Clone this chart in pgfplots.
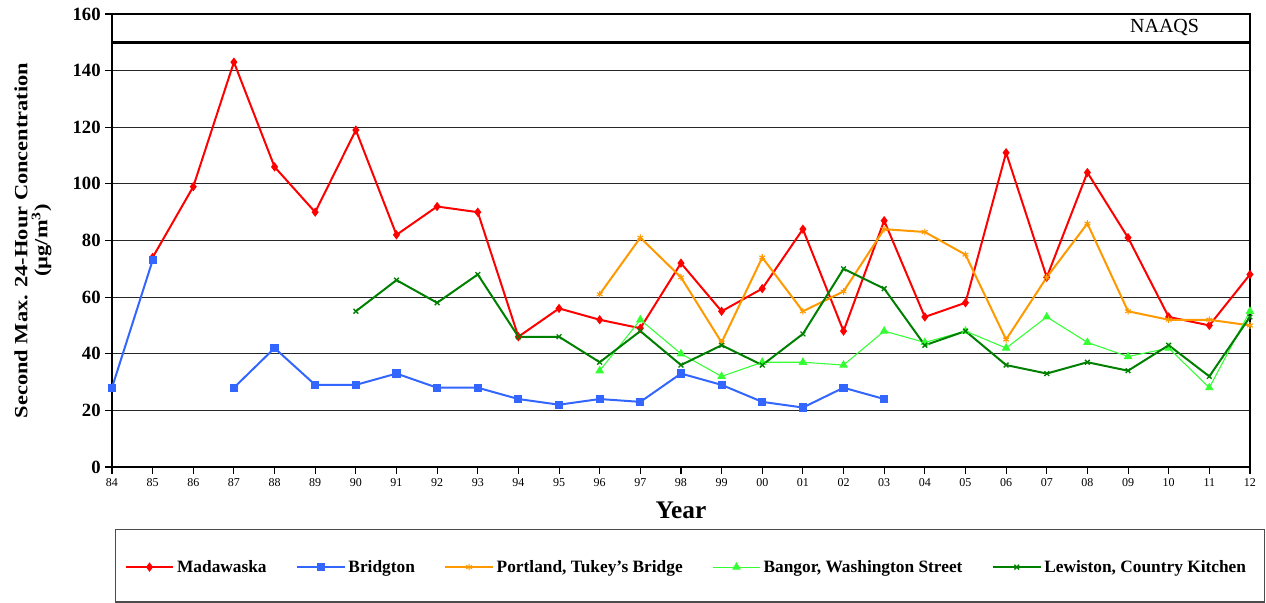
\documentclass[border=0pt]{standalone}
\usepackage{pgfplots}
\pgfplotsset{compat=1.18}
\usepackage{fontspec}
\setmainfont{Liberation Serif}
\definecolor{cMad}{HTML}{FF0000}
\definecolor{cBri}{HTML}{3366FF}
\definecolor{cPor}{HTML}{FF9900}
\definecolor{cBan}{HTML}{33FF33}
\definecolor{cLew}{HTML}{008000}
\begin{document}
\begin{tikzpicture}
\begin{axis}[
  scale only axis,
  width=853.5pt, height=339.75pt,
  xmin=0, xmax=28, ymin=0, ymax=160,
  xtick={0,...,28},
  xticklabels={84,85,86,87,88,89,90,91,92,93,94,95,96,97,98,99,00,01,02,03,04,05,06,07,08,09,10,11,12},
  ytick={0,20,...,160},
  ymajorgrids, grid style={black!85, line width=0.9pt},
  axis line style={black, line width=0.9pt},
  tick align=outside, xtick pos=bottom, ytick pos=left,
  major tick length=5pt,
  tick style={black, line width=0.8pt},
  x tick label style={font=\fontsize{9}{10}\selectfont, yshift=0pt},
  y tick label style={font=\fontsize{14}{16}\selectfont\bfseries},
  /pgf/number format/assume math mode=true,
  xlabel={\bfseries Year}, xlabel style={font=\fontsize{19}{21}\selectfont, yshift=-5pt},
  ylabel={\scalebox{1.2}[1]{\bfseries Second Max. 24-Hour Concentration}\\ \scalebox{1.2}[1]{\bfseries (µg/m\textsuperscript{3})}},
  ylabel style={font=\fontsize{14}{15}\selectfont, align=center, yshift=9pt},
  unbounded coords=jump,
  clip=false,
  legend columns=5,
  legend style={draw=none, fill=none, font=\fontsize{13}{15}\selectfont\bfseries,
    at={(rel axis cs:0.505,-0.221)}, anchor=center,
    /tikz/every even column/.append style={column sep=20pt}},
  legend image code/.code={\draw[mark repeat=2,mark phase=2] plot coordinates {(0cm,0cm) (0.63cm,0cm) (1.26cm,0cm)};},
]
\addplot[cMad, line width=1.5pt, mark=diamond*, mark size=2.3pt] coordinates {
(1,74)(2,99)(3,143)(4,106)(5,90)(6,119)(7,82)(8,92)(9,90)(10,46)(11,56)(12,52)(13,49)(14,72)(15,55)(16,63)(17,84)(18,48)(19,87)(20,53)(21,58)(22,111)(23,67)(24,104)(25,81)(26,53)(27,50)(28,68)};
\addlegendentry{Madawaska}
\addplot[cBri, line width=1.5pt, mark=square*, mark size=2.3pt] coordinates {
(0,28)(1,73)(2,nan)(3,28)(4,42)(5,29)(6,29)(7,33)(8,28)(9,28)(10,24)(11,22)(12,24)(13,23)(14,33)(15,29)(16,23)(17,21)(18,28)(19,24)};
\addlegendentry{Bridgton}
\addplot[cPor, line width=1.5pt, mark=asterisk, mark size=2.5pt, mark options={line width=0.8pt}] coordinates {
(12,61)(13,81)(14,67)(15,44)(16,74)(17,55)(18,62)(19,84)(20,83)(21,75)(22,45)(23,67)(24,86)(25,55)(26,52)(27,52)(28,50)};
\addlegendentry{Portland, Tukey's Bridge}
\addplot[cBan, line width=0.8pt, mark=triangle*, mark size=3pt] coordinates {
(12,34)(13,52)(14,40)(15,32)(16,37)(17,37)(18,36)(19,48)(20,44)(21,48)(22,42)(23,53)(24,44)(25,39)(26,42)(27,28)(28,55)};
\addlegendentry{Bangor, Washington Street}
\addplot[cLew, line width=1.5pt, mark=x, mark size=2.5pt, mark options={line width=1pt}] coordinates {
(6,55)(7,66)(8,58)(9,68)(10,46)(11,46)(12,37)(13,48)(14,36)(15,43)(16,36)(17,47)(18,70)(19,63)(20,43)(21,48)(22,36)(23,33)(24,37)(25,34)(26,43)(27,32)(28,53)};
\addlegendentry{Lewiston, Country Kitchen}
\draw[black, line width=2.2pt] (axis cs:0,150) -- (axis cs:28,150);
\node[font=\fontsize{15}{17}\selectfont, anchor=center] at (axis cs:25.9,155.4) {NAAQS};
\draw[black!70, line width=0.8pt] (rel axis cs:0.003,-0.139) rectangle (rel axis cs:1.0125,-0.298);
\path (rel axis cs:-0.0984,1.0309) rectangle (rel axis cs:1.0141,-0.3002);
\end{axis}
\end{tikzpicture}
\end{document}
